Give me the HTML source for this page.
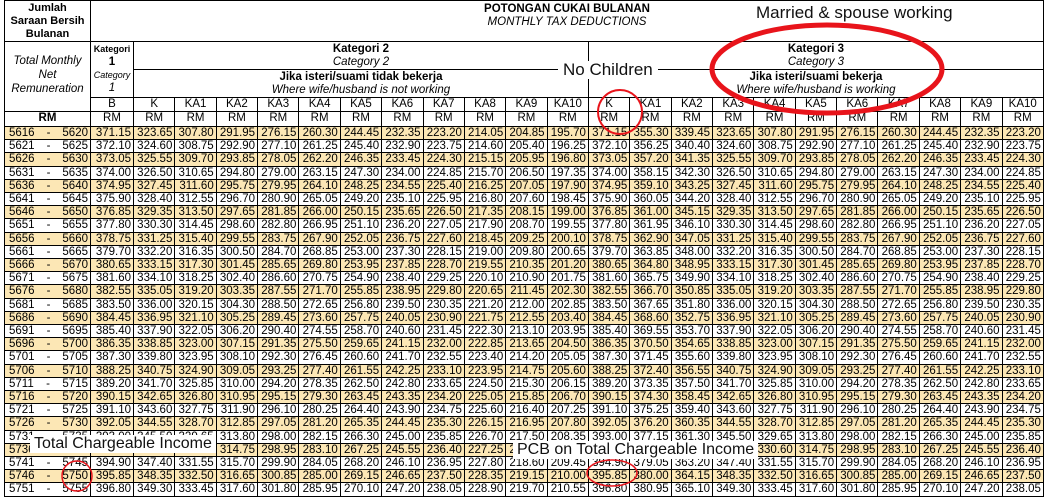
<!DOCTYPE html>
<html><head><meta charset="utf-8"><style>
body{margin:0;width:1057px;height:497px;overflow:hidden;background:#fff;font-family:"Liberation Sans",sans-serif;position:relative}
.c{position:absolute;box-sizing:border-box;border-right:1px solid #000;border-bottom:1px solid #000;font-size:11.5px;line-height:13px;text-align:center;color:#000;overflow:hidden;white-space:nowrap}
.n{text-align:right;padding-right:2px}
.y{background:#fce7b5}
.ann{position:absolute;background:#fff;font-family:"Liberation Sans",sans-serif;font-size:16px;color:#111;white-space:nowrap;line-height:18px}
</style></head><body>
<div id="tbl"></div>
<svg width="1057" height="497" style="position:absolute;left:0;top:0;pointer-events:none">
<ellipse cx="827" cy="69" rx="115" ry="44" fill="none" stroke="#e8141b" stroke-width="5"/>
<circle cx="620" cy="112" r="22" fill="none" stroke="#e8141b" stroke-width="2"/>
<ellipse cx="77" cy="476" rx="15" ry="15" fill="none" stroke="#e8141b" stroke-width="1.5"/>
<ellipse cx="612" cy="473" rx="25" ry="13" fill="none" stroke="#e8141b" stroke-width="1.5"/>
</svg>
<div class="ann" style="left:756px;top:4px;background:none;font-size:17px">Married &amp; spouse working</div>
<div class="ann" style="left:558px;top:61px;padding:0 5px;font-size:17px">No Children</div>
<div class="ann" style="left:30px;top:435px;padding:0 4px">Total Chargeable Income</div>
<div class="ann" style="left:513px;top:441px;padding:0 4px">PCB on Total Chargeable Income</div>
<script>
const incomeStart=[5616,5621,5626,5631,5636,5641,5646,5651,5656,5661,5666,5671,5676,5681,5686,5691,5696,5701,5706,5711,5716,5721,5726,5731,5736,5741,5746,5751];
const colLabels=["B","K","KA1","KA2","KA3","KA4","KA5","KA6","KA7","KA8","KA9","KA10","K","KA1","KA2","KA3","KA4","KA5","KA6","KA7","KA8","KA9","KA10"];
const firstRow=[371.15,323.65,307.80,291.95,276.15,260.30,244.45,232.35,223.20,214.05,204.85,195.70,371.15,355.30,339.45,323.65,307.80,291.95,276.15,260.30,244.45,232.35,223.20];
const rowStep=[0.95,0.95,0.95,0.95,0.95,0.95,0.95,0.55,0.55,0.55,0.55,0.55,0.95,0.95,0.95,0.95,0.95,0.95,0.95,0.95,0.95,0.55,0.55];
const T=document.getElementById('tbl');
function cell(x,y,w,h,html,cls,name){const d=document.createElement('div');d.className='c '+(cls||'');
d.style.left=x+'px';d.style.top=y+'px';d.style.width=w+'px';d.style.height=h+'px';d.innerHTML=html;


T.appendChild(d);return d;}
const X0=5,XB=91,XK=134,CW=41.36,XE=1044;
function cx(i){return i==0?XB:XK+(i-1)*CW;}
function cw(i){return i==0?XK-XB:CW;}
const ob=document.createElement('div');ob.style.cssText='position:absolute;left:4px;top:0;width:'+(XE-4)+'px;height:497px;border-left:1px solid #000;border-top:1px solid #000;box-sizing:border-box';


T.appendChild(ob);
cell(X0,0,XB-X0,42,'<b style="font-size:11px;line-height:13px;display:block;padding-top:2px">Jumlah<br>Saraan Bersih<br>Bulanan</b>','','header-jumlah');
cell(X0,42,XB-X0,70,'<i style="display:block;padding-top:12px;line-height:14px">Total Monthly<br>Net<br>Remuneration</i>','','header-total-monthly');
cell(XB,0,XE-XB,42,'<b style="display:block;padding-top:3px">POTONGAN CUKAI BULANAN</b><i>MONTHLY TAX DEDUCTIONS</i>','','header-title');
cell(XB,42,XK-XB,56,'<b style="font-size:9px;display:block;padding-top:1px">Kategori</b><b>1</b><br><i style="font-size:9px">Category</i><br><i>1</i>','','header-category1');
cell(XK,42,cx(12)-XK,28,'<b style="display:block;padding-top:1px">Kategori 2</b><i>Category 2</i>','','header-category2');
cell(XK,70,cx(12)-XK,28,'<b style="display:block;padding-top:1px">Jika isteri/suami tidak bekerja</b><i>Where wife/husband is not working</i>','','header-category2-note');
cell(cx(12),42,XE-cx(12),28,'<b style="display:block;padding-top:1px">Kategori 3</b><i>Category 3</i>','','header-category3');
cell(cx(12),70,XE-cx(12),28,'<b style="display:block;padding-top:1px">Jika isteri/suami bekerja</b><i>Where wife/husband is working</i>','','header-category3-note');
cell(X0,98,XB-X0,29,'<b style="display:block;padding-top:14px">RM</b>','','header-rm');
for(let i=0;i<colLabels.length;i++){
 cell(cx(i),98,cw(i),14,colLabels[i],'','col-'+colLabels[i].toLowerCase());
 cell(cx(i),112,cw(i),15,'RM','','col-unit');
}
const RH=13.2,Y0=127;
incomeStart.forEach((s,r)=>{
 const y=Y0+r*RH,cls=r%2==0?'y':'';
 cell(X0,y,XB-X0,RH,'<span style="float:left;padding-left:4px">'+s+'</span><span style="float:right;padding-right:2px">'+(s+4)+'</span>-',cls,'income-range');
 for(let i=0;i<colLabels.length;i++){
  const v=firstRow[i]+rowStep[i]*r;
  cell(cx(i),y,cw(i),RH,v.toFixed(2),'n '+cls,'tax-value');
 }
});
</script>
</body></html>
